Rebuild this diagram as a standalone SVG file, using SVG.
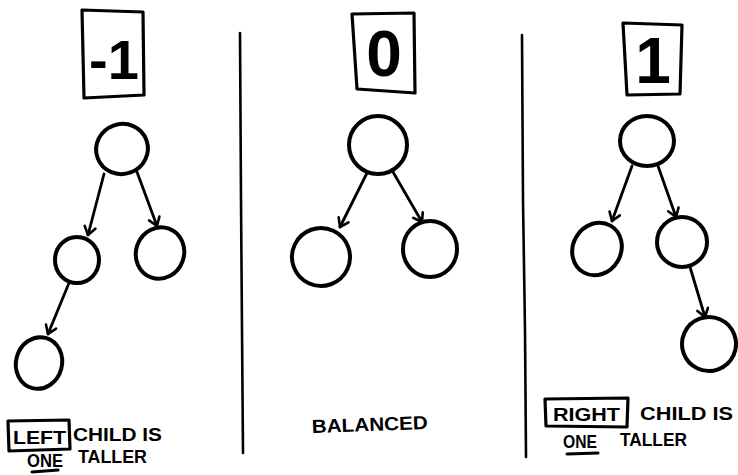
<svg xmlns="http://www.w3.org/2000/svg" width="738" height="475" viewBox="0 0 738 475">
<style>
.node{fill:none;stroke:#000;stroke-width:4}
.box{fill:none;stroke:#000;stroke-width:3.2;stroke-linejoin:round}
.edge{fill:none;stroke:#000;stroke-width:2.8;stroke-linecap:round}
.div{fill:none;stroke:#000;stroke-width:2.6;stroke-linecap:round}
.num{font-family:"Liberation Sans",Arial,sans-serif;font-weight:bold;fill:#000;text-anchor:middle}
.lbl{font-family:"Liberation Sans",Arial,sans-serif;font-weight:bold;font-size:19px;fill:#000}
.ul{fill:none;stroke:#000;stroke-width:3;stroke-linecap:round}
</style>
<defs>
<marker id="arr" viewBox="-10 -7 12 14" refX="0" refY="0" markerWidth="12" markerHeight="14" markerUnits="userSpaceOnUse" orient="auto">
<path d="M-8,-5.5 L0,0 L-8,5.5" fill="none" stroke="#000" stroke-width="2.6" stroke-linecap="round" stroke-linejoin="round"/>
</marker>
</defs>
<rect width="738" height="475" fill="#fff"/>

<g id="dividers">
<path class="div" d="M240,33 L241,200 L242,330 L243,453"/>
<path class="div" d="M522,35 L523,200 L525,330 L526,457"/>
</g>

<g id="connectors">
<path class="edge" d="M104,174 L88,235" marker-end="url(#arr)"/>
<path class="edge" d="M137,172 L157,226" marker-end="url(#arr)"/>
<path class="edge" d="M69,283 L48,334" marker-end="url(#arr)"/>
<path class="edge" d="M367,173 L340,227" marker-end="url(#arr)"/>
<path class="edge" d="M393,172 L422,222" marker-end="url(#arr)"/>
<path class="edge" d="M632,166 L612,221" marker-end="url(#arr)"/>
<path class="edge" d="M658,166 L676,217" marker-end="url(#arr)"/>
<path class="edge" d="M690,267 L705,317" marker-end="url(#arr)"/>
</g>

<g id="panel-left">
<g id="badge-minus1">
<path class="box" d="M82,10 L143,12 L144,95 L84,98 Z"/>
<text class="num" x="114" y="79" font-size="56">-1</text>
</g>
<g id="l-root"><ellipse class="node" cx="122" cy="149" rx="26" ry="25" transform="rotate(-20 122 149)"/></g>
<g id="l-left"><ellipse class="node" cx="77" cy="260" rx="22" ry="23"/></g>
<g id="l-right"><ellipse class="node" cx="160" cy="253" rx="24" ry="26" transform="rotate(20 160 253)"/></g>
<g id="l-leftleft"><ellipse class="node" cx="39" cy="363" rx="23" ry="26" transform="rotate(15 39 363)"/></g>
<g id="l-caption">
<path class="box" d="M8,421 L69,420 L70,449 L9,451 Z"/>
<text class="lbl" x="13" y="444" textLength="53" lengthAdjust="spacingAndGlyphs">LEFT</text>
<text class="lbl" x="73" y="441" textLength="89" lengthAdjust="spacingAndGlyphs">CHILD IS</text>
<text class="lbl" x="27" y="467" textLength="36" lengthAdjust="spacingAndGlyphs">ONE</text>
<text class="lbl" x="78" y="463" textLength="69" lengthAdjust="spacingAndGlyphs">TALLER</text>
<path class="ul" d="M32,472 L58,470"/>
</g>
</g>

<g id="panel-middle">
<g id="badge-0">
<path class="box" d="M352,14 L414,13 L415,93 L357,89 Z"/>
<text class="num" x="384" y="76" font-size="64">0</text>
</g>
<g id="m-root"><ellipse class="node" cx="378" cy="145" rx="29" ry="29"/></g>
<g id="m-left"><ellipse class="node" cx="321" cy="257" rx="29" ry="29" transform="rotate(-20 321 257)"/></g>
<g id="m-right"><ellipse class="node" cx="430" cy="249" rx="27" ry="28"/></g>
<g id="m-caption">
<text class="lbl" x="312" y="433" textLength="116" lengthAdjust="spacingAndGlyphs" transform="rotate(-2 312 433)">BALANCED</text>
</g>
</g>

<g id="panel-right">
<g id="badge-1">
<path class="box" d="M623,23 L682,25 L680,94 L627,95 Z"/>
<text class="num" x="653" y="83" font-size="64">1</text>
</g>
<g id="r-root"><ellipse class="node" cx="647" cy="141" rx="27" ry="25"/></g>
<g id="r-left"><ellipse class="node" cx="597" cy="249" rx="24" ry="27" transform="rotate(30 597 249)"/></g>
<g id="r-right"><ellipse class="node" cx="682" cy="242" rx="25" ry="25"/></g>
<g id="r-rightright"><ellipse class="node" cx="709" cy="344" rx="27" ry="27" transform="rotate(-20 709 344)"/></g>
<g id="r-caption">
<path class="box" d="M545,399 L628,398 L627,427 L546,426 Z"/>
<text class="lbl" x="553" y="421" textLength="67" lengthAdjust="spacingAndGlyphs">RIGHT</text>
<text class="lbl" x="640" y="420" textLength="93" lengthAdjust="spacingAndGlyphs">CHILD IS</text>
<text class="lbl" x="563" y="448" textLength="34" lengthAdjust="spacingAndGlyphs">ONE</text>
<text class="lbl" x="620" y="446" textLength="67" lengthAdjust="spacingAndGlyphs">TALLER</text>
<path class="ul" d="M567,454 L598,453"/>
</g>
</g>
</svg>
